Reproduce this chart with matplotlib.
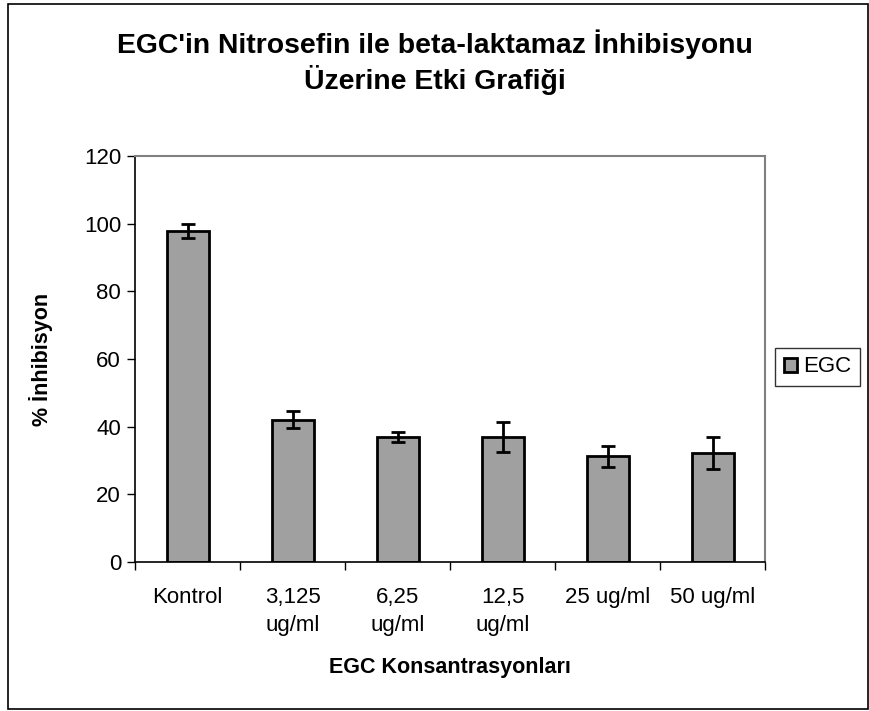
import numpy as np
import matplotlib
matplotlib.use("Agg")
import matplotlib.pyplot as plt
from matplotlib.patches import Rectangle

plt.rcParams['font.family'] = ['Liberation Sans', 'DejaVu Sans']

# data
categories = ["Kontrol", "3,125\nug/ml", "6,25\nug/ml", "12,5\nug/ml", "25 ug/ml", "50 ug/ml"]
inhibition = [97.9, 42.1, 36.9, 36.9, 31.2, 32.2]
err = [2.1, 2.4, 1.5, 4.5, 3.0, 4.6]
yticks = [0, 20, 40, 60, 80, 100, 120]

W, H = 869, 711
fig = plt.figure(figsize=(W / 100, H / 100), dpi=100)

# outer chart border
fig.add_artist(Rectangle((8 / W, 2 / H), 860 / W, 705 / H, transform=fig.transFigure,
                         fill=False, edgecolor='black', linewidth=1.2))

ax = fig.add_axes([135 / W, (H - 562) / H, (765 - 135) / W, (562 - 156) / H])

x = np.arange(len(categories))
ax.bar(x, inhibition, width=0.4, color='#a0a0a0', edgecolor='black', linewidth=2, label='EGC', zorder=2)
ax.errorbar(x, inhibition, yerr=err, fmt='none', ecolor='black', elinewidth=2, capsize=5, capthick=2, zorder=3)

ax.set_xlim(-0.5, len(categories) - 0.5)
ax.set_ylim(0, 120)
ax.set_yticks(yticks)
ax.tick_params(axis='y', labelsize=16, length=6, width=1, direction='out', pad=4)

# category labels at centres, tick marks at boundaries
ax.set_xticks(x)
ax.set_xticklabels(categories, fontsize=16, linespacing=1.45, va='top')
ax.tick_params(axis='x', which='major', length=0, pad=18)
ax.set_xticks(np.arange(-0.5, len(categories), 1), minor=True)
ax.tick_params(axis='x', which='minor', length=6, width=1, direction='out')

for s in ['top', 'right']:
    ax.spines[s].set_color('#808080')
    ax.spines[s].set_linewidth(1.5)
for s in ['left', 'bottom']:
    ax.spines[s].set_color('black')
    ax.spines[s].set_linewidth(1.2)

ax.set_xlabel("EGC Konsantrasyonları", fontsize=15.5, fontweight='bold', labelpad=15)
ax.set_ylabel("% İnhibisyon", fontsize=15.5, fontweight='bold', labelpad=22)

fig.text(435 / W, 1 - 62 / H, "EGC'in Nitrosefin ile beta-laktamaz İnhibisyonu\nÜzerine Etki Grafiği",
         ha='center', va='center', fontsize=20.4, fontweight='bold', linespacing=1.25)

leg = fig.legend(loc='center left', bbox_to_anchor=(775 / W, 1 - 367 / H), fontsize=16,
                 frameon=True, fancybox=False, edgecolor='black', handlelength=0.6,
                 handleheight=0.6, handletextpad=0.25, borderpad=0.4, borderaxespad=0)
leg.get_frame().set_linewidth(1)

fig.savefig("out.png", dpi=100)
